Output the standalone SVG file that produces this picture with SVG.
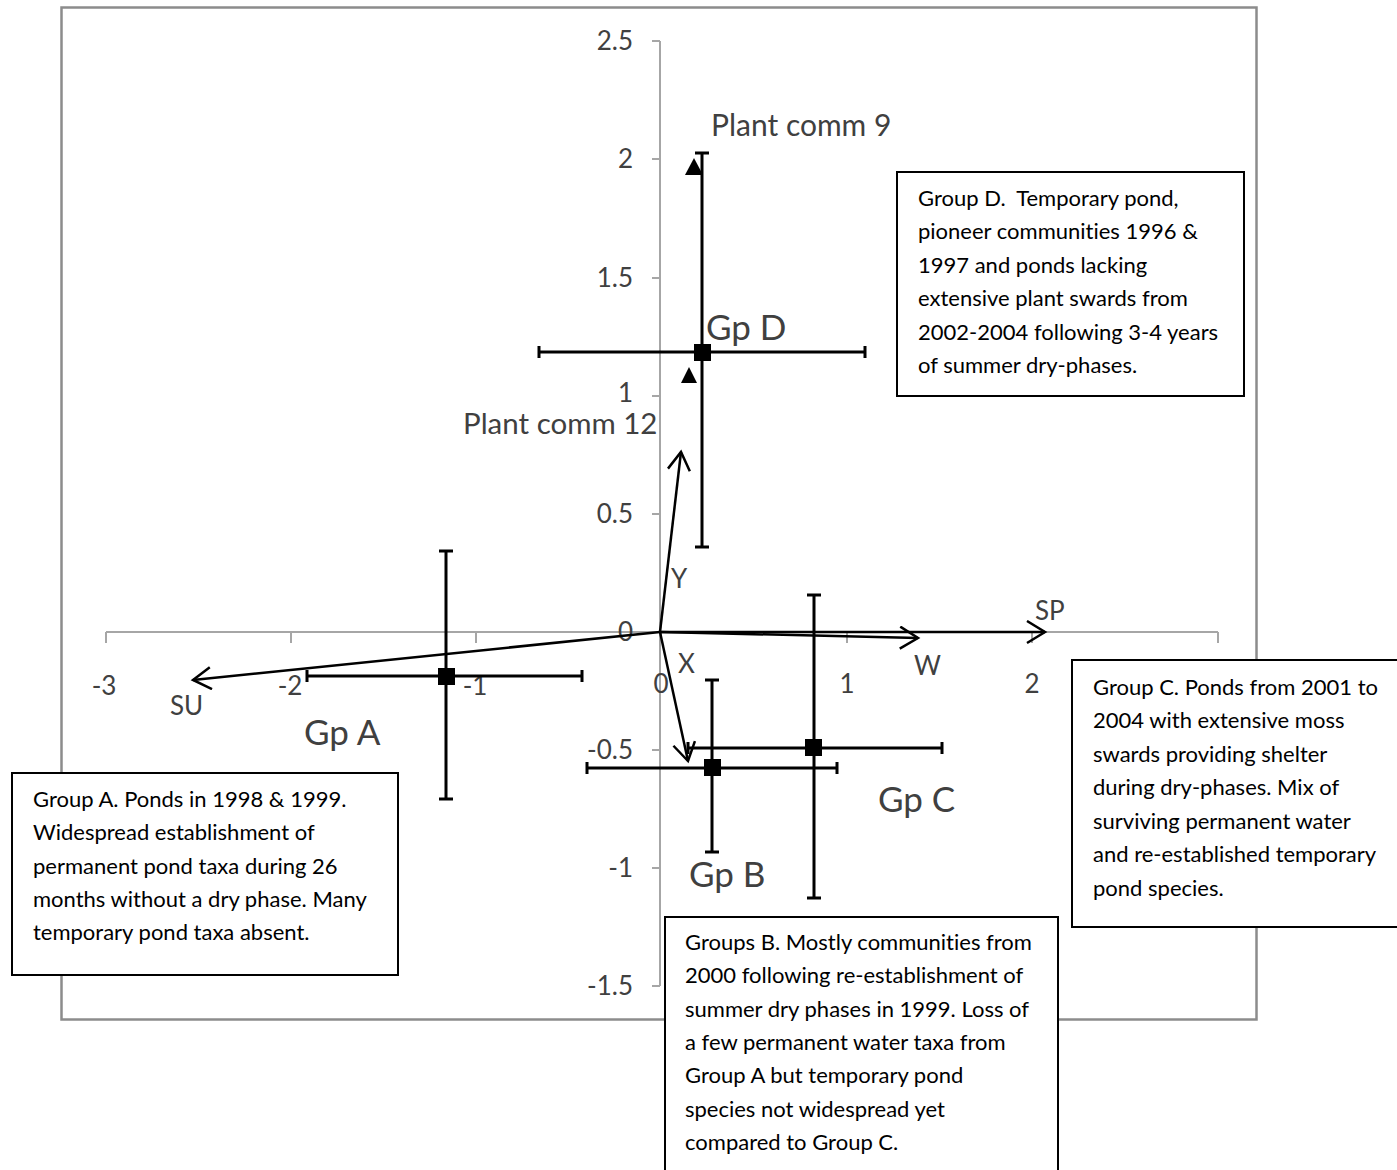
<svg xmlns="http://www.w3.org/2000/svg" width="1397" height="1170" viewBox="0 0 1397 1170">
<defs>
<style>
text{font-variant-ligatures:none;white-space:pre}
.frame{fill:#fff;stroke:#8c8c8c;stroke-width:2.5}
.axis{stroke:#a6a6a6;stroke-width:2;fill:none}
.tick{font-family:Lato,"Liberation Sans",sans-serif;font-size:26px;fill:#404040}
.lbl{font-family:Lato,"Liberation Sans",sans-serif;font-size:30px;fill:#404040}
.gp{font-family:Lato,"Liberation Sans",sans-serif;font-size:35px;fill:#404040}
.vl{font-family:Lato,"Liberation Sans",sans-serif;font-size:26px;fill:#404040}
.bar{stroke:#000;stroke-width:3;fill:none}
.vec{stroke:#000;stroke-width:2.5;fill:none}
.box{fill:#fff;stroke:#000;stroke-width:2}
.bt{font-family:Lato,"Liberation Sans",sans-serif;font-size:22px;fill:#000}
</style>
<marker id="arr" markerUnits="userSpaceOnUse" markerWidth="30" markerHeight="30" refX="20" refY="12" orient="auto">
<path d="M2,1 L20,12 L2,23" fill="none" stroke="#000" stroke-width="2.5"/>
</marker>
</defs>
<rect width="1397" height="1170" fill="#fff"/>
<rect class="frame" x="61.5" y="7.5" width="1195" height="1012"/>

<g id="axes">
<path class="axis" d="M660,41 V986 M652,41 H660 M652,159 H660 M652,278 H660 M652,396 H660 M652,514 H660 M652,632 H660 M652,750 H660 M652,868 H660 M652,986 H660"/>
<path class="axis" d="M106,632 H1218 M106,632 V643 M291,632 V643 M476,632 V643 M661,632 V643 M847,632 V643 M1032,632 V643 M1218,632 V643"/>
<g class="tick" text-anchor="end">
<text x="633" y="50">2.5</text>
<text x="633" y="168">2</text>
<text x="633" y="287">1.5</text>
<text x="633" y="402">1</text>
<text x="633" y="523">0.5</text>
<text x="633" y="641">0</text>
<text x="633" y="759">-0.5</text>
<text x="633" y="877">-1</text>
<text x="633" y="995">-1.5</text>
</g>
<g class="tick" text-anchor="middle">
<text x="104" y="695">-3</text>
<text x="290" y="695">-2</text>
<text x="475" y="695">-1</text>
<text x="661" y="693">0</text>
<text x="847" y="693">1</text>
<text x="1032" y="693">2</text>
</g>
</g>

<g id="plant-comm-9">
<polygon points="694,158 685,175 703,175" fill="#000"/>
<text class="lbl" x="711" y="136">Plant comm 9</text>
</g>
<g id="plant-comm-12">
<polygon points="689,367 681,383 697,383" fill="#000"/>
<text class="lbl" x="463" y="434" style="font-size:29.5px">Plant comm 12</text>
</g>

<g id="gp-d">
<path class="bar" d="M702,153 V547 M695,153 H709 M695,547 H709 M539,352 H865 M539,346 V358 M865,346 V358"/>
<rect x="694" y="344" width="17" height="17" fill="#000"/>
<text class="gp" x="706" y="340">Gp D</text>
</g>
<g id="gp-a">
<path class="bar" d="M446,551 V799 M439,551 H453 M439,799 H453 M307,676 H582 M307,670 V682 M582,670 V682"/>
<rect x="438" y="668" width="17" height="17" fill="#000"/>
<text class="gp" x="304" y="745">Gp A</text>
</g>
<g id="gp-c">
<path class="bar" d="M814,595 V898 M807,595 H821 M807,898 H821 M688,748 H942 M688,742 V754 M942,742 V754"/>
<rect x="805" y="739" width="17" height="17" fill="#000"/>
<text class="gp" x="878" y="812">Gp C</text>
</g>
<g id="gp-b">
<path class="bar" d="M712,680 V852 M705,680 H719 M705,852 H719 M587,768 H837 M587,762 V774 M837,762 V774"/>
<rect x="704" y="759" width="17" height="17" fill="#000"/>
<text class="gp" x="689" y="887">Gp B</text>
</g>

<g id="connectors">
<line class="vec" x1="660" y1="632" x2="193" y2="680" marker-end="url(#arr)"/>
<line class="vec" x1="660" y1="632" x2="1045" y2="632" marker-end="url(#arr)"/>
<line class="vec" x1="660" y1="632" x2="918" y2="638" marker-end="url(#arr)"/>
<line class="vec" x1="660" y1="632" x2="681" y2="452" marker-end="url(#arr)"/>
<line class="vec" x1="660" y1="632" x2="688" y2="761" marker-end="url(#arr)"/>
</g>

<g id="vector-labels">
<text class="vl" x="170" y="715">SU</text>
<text class="vl" x="1035" y="620">SP</text>
<text class="vl" x="914" y="675">W</text>
<text class="vl" x="671" y="588">Y</text>
<text class="vl" x="678" y="673">X</text>
</g>

<g id="box-d">
<rect class="box" x="897" y="172" width="347" height="224"/>
<text class="bt" x="918" y="206">Group D.  Temporary pond,</text>
<text class="bt" x="918" y="239">pioneer communities 1996 &amp;</text>
<text class="bt" x="918" y="273">1997 and ponds lacking</text>
<text class="bt" x="918" y="306">extensive plant swards from</text>
<text class="bt" x="918" y="340">2002-2004 following 3-4 years</text>
<text class="bt" x="918" y="373">of summer dry-phases.</text>
</g>
<g id="box-c">
<rect class="box" x="1072" y="660" width="340" height="267"/>
<text class="bt" x="1093" y="695">Group C. Ponds from 2001 to</text>
<text class="bt" x="1093" y="728">2004 with extensive moss</text>
<text class="bt" x="1093" y="762">swards providing shelter</text>
<text class="bt" x="1093" y="795">during dry-phases. Mix of</text>
<text class="bt" x="1093" y="829">surviving permanent water</text>
<text class="bt" x="1093" y="862">and re-established temporary</text>
<text class="bt" x="1093" y="896">pond species.</text>
</g>
<g id="box-a">
<rect class="box" x="12" y="773" width="386" height="202"/>
<text class="bt" x="33" y="807">Group A. Ponds in 1998 &amp; 1999.</text>
<text class="bt" x="33" y="840">Widespread establishment of</text>
<text class="bt" x="33" y="874">permanent pond taxa during 26</text>
<text class="bt" x="33" y="907">months without a dry phase. Many</text>
<text class="bt" x="33" y="940">temporary pond taxa absent.</text>
</g>
<g id="box-b">
<rect class="box" x="665" y="917" width="393" height="270"/>
<text class="bt" x="685" y="950">Groups B. Mostly communities from</text>
<text class="bt" x="685" y="983">2000 following re-establishment of</text>
<text class="bt" x="685" y="1017">summer dry phases in 1999. Loss of</text>
<text class="bt" x="685" y="1050">a few permanent water taxa from</text>
<text class="bt" x="685" y="1083">Group A but temporary pond</text>
<text class="bt" x="685" y="1117">species not widespread yet</text>
<text class="bt" x="685" y="1150">compared to Group C.</text>
</g>
</svg>
